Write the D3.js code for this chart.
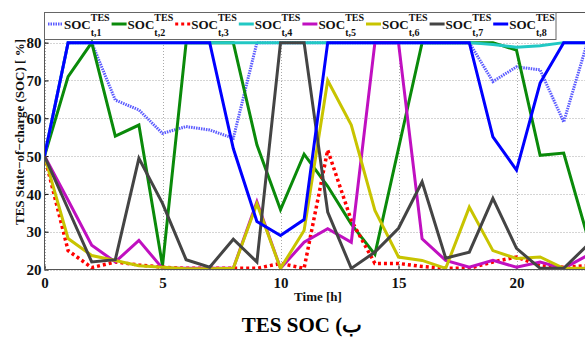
<!DOCTYPE html>
<html>
<head>
<meta charset="utf-8">
<script src="https://cdn.jsdelivr.net/npm/d3@7/dist/d3.min.js"></script>
<style>
  body { margin: 0; background: #fff; }
  text { font-family: "Liberation Serif", "Times New Roman", serif; font-weight: bold; }
</style>
</head>
<body>
<figure id="soc" style="margin:0"></figure>
<script>
// hours 0..23
const hours = d3.range(0, 24);

const soc1 = [50, 80, 80, 64.8, 62.2, 56, 57.8, 56.9, 54.7, 80, 80, 80, 80, 80, 80, 80, 80, 80, 80, 69.7, 73.6, 72.8, 59, 80];
const soc2 = [50, 71, 80, 55.3, 58.2, 21, 80, 80, 80, 53, 35.8, 50.5, 42, 32, 24, 52, 80, 80, 80, 80, 78, 50.2, 50.8, 29];
const soc3 = [50, 25, 20.5, 22, 21.2, 20.6, 20.3, 20.3, 20.3, 20.3, 21.6, 20.3, 51.6, 33, 21.6, 21.6, 20.8, 20.3, 20.3, 22, 23.3, 21, 20.6, 21];
const soc4 = [50, 80, 80, 80, 80, 80, 80, 80, 80, 80, 80, 80, 80, 80, 80, 80, 80, 80, 80, 79.5, 78.8, 79.2, 80, 80];
const soc5 = [50, 38.3, 26.4, 22, 27.7, 20.3, 20.3, 20.3, 20.3, 37.9, 20.3, 27.2, 30.8, 27.2, 80, 80, 28.1, 22.4, 20.6, 22.4, 20.6, 22, 20.3, 23.7];
const soc6 = [50, 28.2, 23.7, 22.4, 21, 20.6, 20.2, 20.2, 20.3, 37.4, 20.3, 30.3, 70, 58.2, 35.6, 23.3, 22.4, 20.3, 36.5, 25, 22.9, 23.3, 20.3, 20.3];
const soc7 = [50, 36, 22, 22.6, 49.4, 37.5, 22.6, 20.6, 28, 22, 80, 80, 35.2, 20.3, 24.6, 30.9, 43.2, 23, 24.6, 38.8, 25.6, 20.3, 20.3, 26.4];
const soc8 = [50, 80, 80, 80, 80, 80, 80, 80, 52, 32.7, 29, 33.2, 80, 80, 80, 80, 80, 80, 80, 55.1, 46.3, 69.3, 80, 80];

const seriesNames = ['t,1', 't,2', 't,3', 't,4', 't,5', 't,6', 't,7', 't,8'];
const xTicks = [0, 5, 10, 15, 20];
const yTicks = [20, 30, 40, 50, 60, 70, 80];

const series = [soc1, soc2, soc3, soc4, soc5, soc6, soc7, soc8];
const colors = ['#5b5bff', '#0a8a0a', '#ff0000', '#22c8c4', '#c010c0', '#c8c400', '#444444', '#0000ff'];
const dashes = ['1.5,1', null, '3,3', null, null, null, null, null];

const W = 585, H = 338;
const plotLeft = 44.5, plotTop = 12, plotBottom = 269.5;

const svg = d3.select('figure#soc')
  .append('svg')
  .attr('width', W)
  .attr('height', H);

const x = d3.scaleLinear().domain([0, 24]).range([plotLeft, plotLeft + 24 * 23.6]);
const y = d3.scaleLinear().domain([20, 88.1]).range([plotBottom, plotTop]);

svg.append('defs').append('clipPath').attr('id', 'plot')
  .append('rect')
  .attr('x', plotLeft).attr('y', plotTop)
  .attr('width', x(24) - plotLeft).attr('height', plotBottom - plotTop);

// grid
svg.append('g')
  .selectAll('line')
  .data(yTicks)
  .enter()
  .append('line')
  .attr('x1', plotLeft).attr('x2', W)
  .attr('y1', d => Math.round(y(d)) + 0.5).attr('y2', d => Math.round(y(d)) + 0.5)
  .attr('stroke', '#aaa').attr('stroke-dasharray', '1,2');

svg.append('g')
  .selectAll('line')
  .data(xTicks)
  .enter()
  .append('line')
  .attr('x1', d => Math.round(x(d)) + 0.5).attr('x2', d => Math.round(x(d)) + 0.5)
  .attr('y1', plotTop).attr('y2', plotBottom)
  .attr('stroke', '#aaa').attr('stroke-dasharray', '1,2');

// axes
svg.append('g')
  .attr('transform', 'translate(0,' + plotBottom + ')')
  .call(d3.axisBottom(x).tickValues(xTicks).tickSize(-4).tickPadding(8))
  .call(g => g.select('.domain').remove())
  .selectAll('text')
  .attr('font-size', 15)
  .attr('fill', '#111');

svg.append('g')
  .attr('transform', 'translate(' + plotLeft + ',0)')
  .call(d3.axisLeft(y).tickValues(yTicks).tickSize(-4).tickPadding(3))
  .call(g => g.select('.domain').remove())
  .selectAll('text')
  .attr('font-size', 15)
  .attr('dy', '0.35em')
  .attr('fill', '#111');

// lines
const line = d3.line()
  .x((d, i) => x(hours[i]))
  .y(d => y(d));

svg.append('g')
  .attr('clip-path', 'url(#plot)')
  .selectAll('path')
  .data(series)
  .enter()
  .append('path')
  .attr('d', d => line(d))
  .attr('fill', 'none')
  .attr('stroke', (d, i) => colors[i])
  .attr('stroke-width', (d, i) => i === 2 ? 3.5 : 3)
  .attr('stroke-dasharray', (d, i) => dashes[i])
  .attr('stroke-linejoin', 'miter');

// frame
svg.append('path')
  .attr('d', 'M' + W + ',' + (plotTop + 0.5) + 'H' + plotLeft + 'V' + plotBottom + 'H' + W)
  .attr('fill', 'none')
  .attr('stroke', '#555')
  .attr('stroke-width', 1);

// legend
const lg = svg.append('g');
lg.append('rect')
  .attr('x', plotLeft).attr('y', plotTop + 0.5)
  .attr('width', 556 - plotLeft).attr('height', 39 - plotTop)
  .attr('fill', '#fff')
  .attr('stroke', '#666');

seriesNames.forEach((name, i) => {
  const x0 = 48 + i * 63.6;
  lg.append('line')
    .attr('x1', x0).attr('x2', x0 + 15)
    .attr('y1', 24).attr('y2', 24)
    .attr('stroke', colors[i])
    .attr('stroke-width', 3)
    .attr('stroke-dasharray', dashes[i]);
  const t = lg.append('text')
    .attr('x', x0 + 16).attr('y', 29)
    .attr('font-size', 13)
    .attr('fill', '#111')
    .text('SOC');
  const w = t.node().getComputedTextLength();
  lg.append('text')
    .attr('x', x0 + 16 + w).attr('y', 21)
    .attr('font-size', 10)
    .attr('fill', '#111')
    .text('TES');
  lg.append('text')
    .attr('x', x0 + 16 + w).attr('y', 35.5)
    .attr('font-size', 10)
    .attr('fill', '#111')
    .text(name);
});

// labels
svg.append('text')
  .attr('transform', 'translate(24,132)rotate(-90)')
  .attr('text-anchor', 'middle')
  .attr('font-size', 13)
  .attr('fill', '#111')
  .text('TES State\u2212of\u2212charge (SOC) [ %]');

svg.append('text')
  .attr('x', 318).attr('y', 301)
  .attr('text-anchor', 'middle')
  .attr('font-size', 13)
  .attr('fill', '#111')
  .text('Time [h]');

svg.append('text')
  .attr('x', 302).attr('y', 332)
  .attr('text-anchor', 'middle')
  .attr('font-size', 21)
  .attr('fill', '#000')
  .text('TES SOC (\u0628');
</script>
</body>
</html>
